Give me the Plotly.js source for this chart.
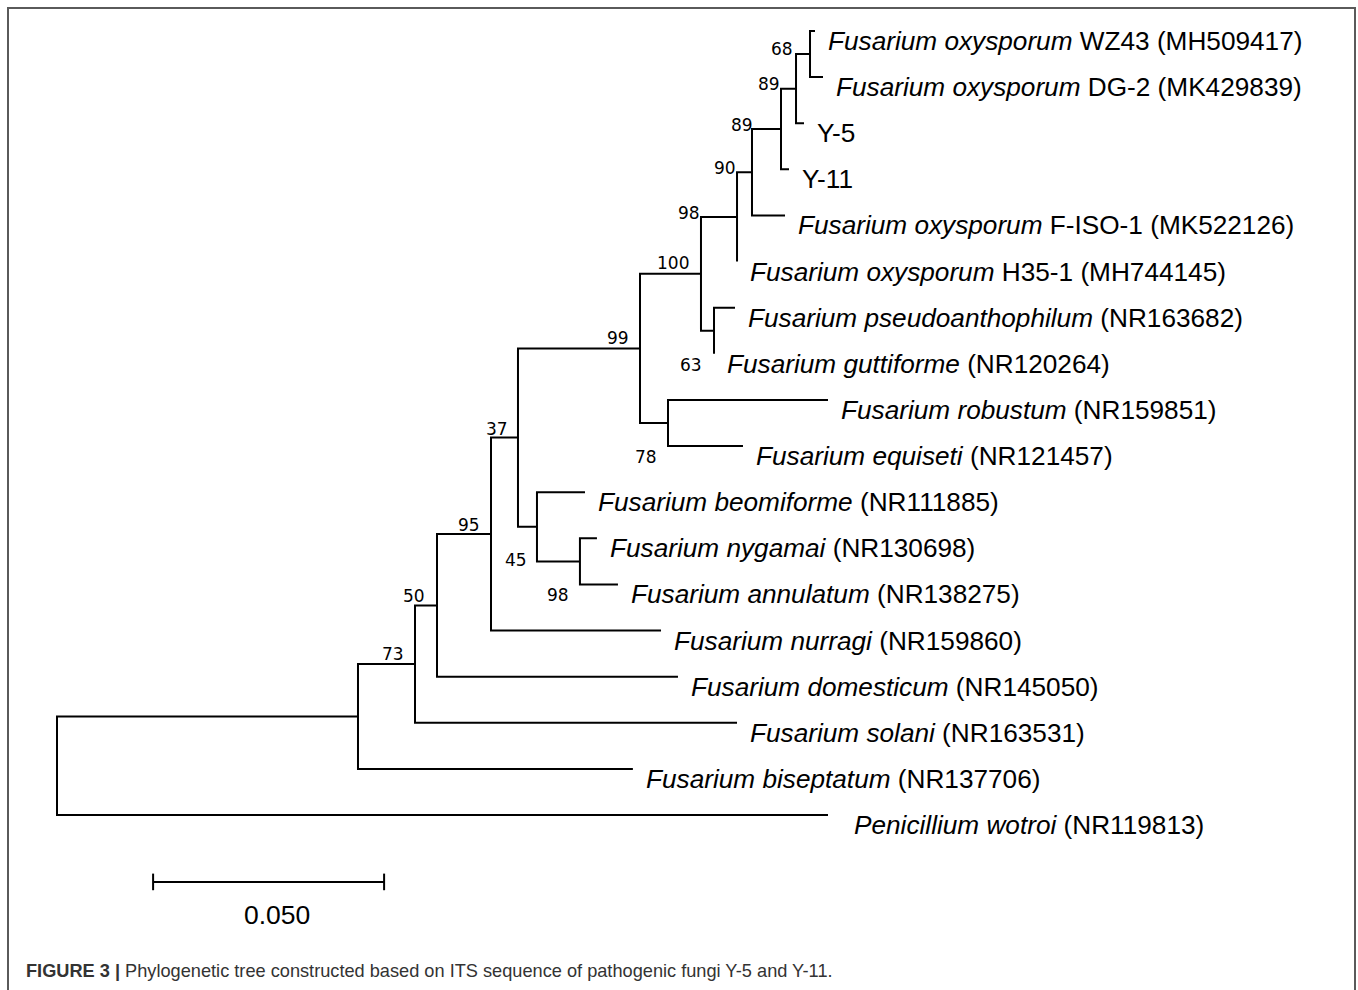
<!DOCTYPE html>
<html><head><meta charset="utf-8">
<script src="https://cdn.plot.ly/plotly-3.0.1.min.js"></script>
<style>html,body{margin:0;padding:0;background:#fff;overflow:hidden}#chart{width:1358px;height:990px}</style>
</head><body><div id="chart"></div>
<script>
// ---------------- DATA ----------------
// Tree nodes: index, label (tips only), parent index, branch length (substitutions/site), bootstrap (internal nodes)
const nodeLabels = [
  '', '', '', '', '', '', '', '', '', '', '', '', '',
  '<i>Fusarium oxysporum</i> WZ43 (MH509417)',
  '<i>Fusarium oxysporum</i> DG-2 (MK429839)',
  'Y-5',
  'Y-11',
  '<i>Fusarium oxysporum</i> F-ISO-1 (MK522126)',
  '<i>Fusarium oxysporum</i> H35-1 (MH744145)',
  '',
  '<i>Fusarium pseudoanthophilum</i> (NR163682)',
  '<i>Fusarium guttiforme</i> (NR120264)',
  '',
  '<i>Fusarium robustum</i> (NR159851)',
  '<i>Fusarium equiseti</i> (NR121457)',
  '',
  '<i>Fusarium beomiforme</i> (NR111885)',
  '',
  '<i>Fusarium nygamai</i> (NR130698)',
  '<i>Fusarium annulatum</i> (NR138275)',
  '<i>Fusarium nurragi</i> (NR159860)',
  '<i>Fusarium domesticum</i> (NR145050)',
  '<i>Fusarium solani</i> (NR163531)',
  '<i>Fusarium biseptatum</i> (NR137706)',
  '<i>Penicillium wotroi</i> (NR119813)'
];
const parentIndex = [-1, 0, 1, 2, 3, 4, 5, 6, 7, 8, 9, 10, 11, 12, 12, 11, 10, 9, 8, 7, 19, 19, 6, 22, 22, 5, 25, 25, 27, 27, 4, 3, 2, 1, 0];
const branchLength = [0, 0.06515, 0.01234, 0.00476, 0.01169, 0.00584, 0.02641, 0.0132, 0.0078, 0.00324,
  0.00628, 0.00325, 0.00303, 0.00108, 0.00281, 0.00173, 0.00173, 0.00715, 0, 0.00282,
  0.00454, 0, 0.00606, 0.03463, 0.01623, 0.00411, 0.01039, 0.0093, 0.00368, 0.00823,
  0.0368, 0.05216, 0.0697, 0.0595, 0.16688];
const bootstrap = [null, null, 73, 50, 95, 37, 99, 100, 98, 90, 89, 89, 68, null, null, null, null, null, null, 63,
  null, null, 78, null, null, 45, null, 98, null, null, null, null, null, null, null];
const scaleBarLength = 0.050;
const scaleBarLabel = '0.050';
const captionBold = 'FIGURE 3 |';
const captionText = ' Phylogenetic tree constructed based on ITS sequence of pathogenic fungi Y-5 and Y-11.';

// ---------------- STYLE / PLACEMENT ----------------
const W = 1358, H = 990;
const pxPerUnit = 4620, rootPx = 57, firstTipPx = 31, tipSpacingPx = 46.12;
const scaleBarStart = 0.0208, scaleBarRow = 18.45, scaleTickRows = 0.18, scaleLabelRow = 19.17, scaleLabelShiftPx = 8;
// bootstrap label placement: [dx of right edge from node (px), dy of centre from node (px, down positive)]
const bootOffset = {12:[-18,-5],11:[-17,-5],10:[-29,-4],9:[-17,-4],8:[-38,-4],7:[-13,-10.5],6:[-12,-10],
  5:[-11,-8.5],4:[-12,-9],3:[-13,-9],2:[-12,-10],19:[-13,34.5],22:[-12,34],25:[-11,33],27:[-12,34]};
const tipGapPx = {34: 27};
const defaultTipGap = 14;

// ---------------- BUILD TREE ----------------
const n = parentIndex.length;
const depth = new Array(n).fill(0);
const children = Array.from({length: n}, () => []);
for (let i = 0; i < n; i++) {
  if (parentIndex[i] >= 0) { depth[i] = depth[parentIndex[i]] + branchLength[i]; children[parentIndex[i]].push(i); }
}
const yPos = new Array(n).fill(0);
let tipCounter = 0;
function layout(i) {
  if (children[i].length === 0) { yPos[i] = tipCounter++; return; }
  children[i].forEach(layout);
  const c = children[i];
  yPos[i] = (yPos[c[0]] + yPos[c[c.length - 1]]) / 2;
}
layout(0);

const lx = [], ly = [];
for (let i = 0; i < n; i++) {
  const c = children[i];
  if (!c.length) continue;
  const a = c[0], b = c[c.length - 1];
  lx.push(depth[a], depth[i], depth[i], depth[b], null);
  ly.push(yPos[a], yPos[a], yPos[b], yPos[b], null);
  for (let k = 1; k < c.length - 1; k++) {
    lx.push(depth[i], depth[c[k]], null); ly.push(yPos[c[k]], yPos[c[k]], null);
  }
}

const annotations = [];
for (let i = 0; i < n; i++) {
  if (!children[i].length) {
    annotations.push({x: depth[i], y: yPos[i], xref: 'x', yref: 'y', text: nodeLabels[i], showarrow: false,
      xanchor: 'left', yanchor: 'middle', xshift: (tipGapPx[i] || defaultTipGap) - 1, yshift: -10,
      borderpad: 0, borderwidth: 0,
      font: {family: 'Liberation Sans, Arial, sans-serif', size: 26.2, color: '#000'}});
  } else if (bootstrap[i] !== null) {
    const off = bootOffset[i] || [-12, -9];
    annotations.push({x: depth[i], y: yPos[i], xref: 'x', yref: 'y', text: String(bootstrap[i]), showarrow: false,
      xanchor: 'right', yanchor: 'middle', xshift: off[0] + 1, yshift: -off[1],
      borderpad: 0, borderwidth: 0,
      font: {family: 'DejaVu Sans, Verdana, sans-serif', size: 17, color: '#000'}});
  }
}
annotations.push({x: scaleBarStart + scaleBarLength / 2, y: scaleLabelRow, xref: 'x', yref: 'y', text: scaleBarLabel,
  showarrow: false, xanchor: 'center', yanchor: 'middle', borderpad: 0, xshift: scaleLabelShiftPx,
  font: {family: 'Liberation Sans, Arial, sans-serif', size: 26.5, color: '#000'}});
annotations.push({x: 25 / W, y: 1 - 971 / H, xref: 'paper', yref: 'paper', xanchor: 'left', yanchor: 'middle',
  showarrow: false, borderpad: 0, text: '<b>' + captionBold + '</b>' + captionText,
  font: {family: 'Liberation Sans Narrow, Liberation Sans, Arial, sans-serif', size: 18.2, color: '#333'}});

const traces = [
  {type: 'scatter', mode: 'lines', x: lx, y: ly, line: {color: '#000', width: 2}, hoverinfo: 'skip', connectgaps: false},
  {type: 'scatter', mode: 'lines', hoverinfo: 'skip', line: {color: '#000', width: 2},
    x: [scaleBarStart, scaleBarStart, null, scaleBarStart, scaleBarStart + scaleBarLength, null, scaleBarStart + scaleBarLength, scaleBarStart + scaleBarLength],
    y: [scaleBarRow - scaleTickRows, scaleBarRow + scaleTickRows, null, scaleBarRow, scaleBarRow, null, scaleBarRow - scaleTickRows, scaleBarRow + scaleTickRows]}
];

const layoutObj = {
  width: W, height: H, margin: {l: 0, r: 0, t: 0, b: 0}, paper_bgcolor: '#fff', plot_bgcolor: '#fff', showlegend: false,
  xaxis: {visible: false, range: [-rootPx / pxPerUnit, (W - rootPx) / pxPerUnit], fixedrange: true},
  yaxis: {visible: false, range: [(H - firstTipPx) / tipSpacingPx, -firstTipPx / tipSpacingPx], fixedrange: true},
  annotations: annotations,
  shapes: [{type: 'rect', xref: 'paper', yref: 'paper', x0: 8 / W, x1: 1355 / W, y0: -0.05, y1: 1 - 8 / H,
    line: {color: '#5a5a5a', width: 2}, fillcolor: 'rgba(0,0,0,0)'}]
};
Plotly.newPlot('chart', traces, layoutObj, {displayModeBar: false, staticPlot: true});
</script></body></html>
